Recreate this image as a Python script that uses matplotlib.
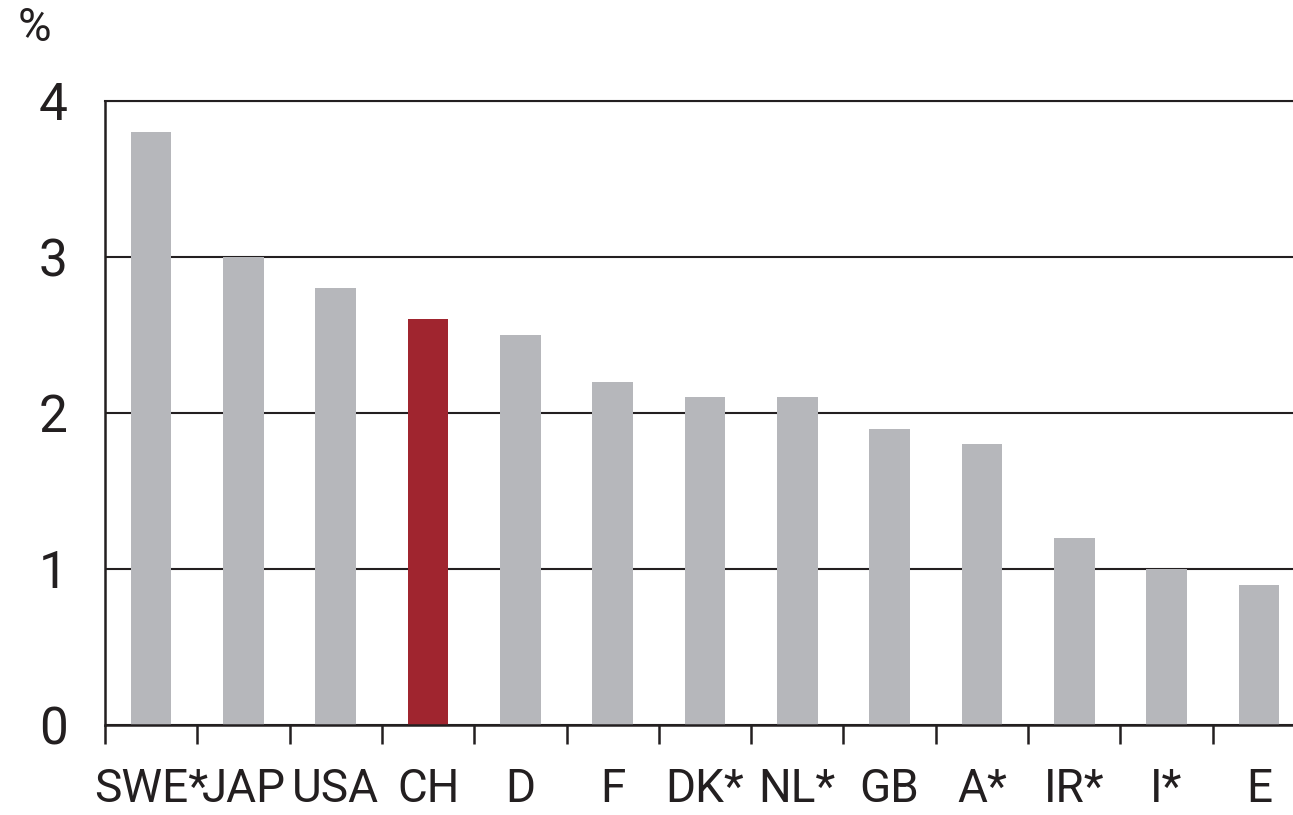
import matplotlib.pyplot as plt
import numpy as np

# Daten
countries = ['SWE*', 'JAP', 'USA', 'CH', 'D', 'F', 'DK*', 'NL*', 'GB', 'A*', 'IR*', 'I*', 'E']
values = [3.8, 3.0, 2.8, 2.6, 2.5, 2.2, 2.1, 2.1, 1.9, 1.8, 1.2, 1.0, 0.9]
highlight = 'CH'

grey = '#b6b7bb'
red = '#a0252f'
dark = '#231f20'

plt.rcParams['font.family'] = ['Roboto', 'DejaVu Sans']

fig = plt.figure(figsize=(12.93, 8.15), dpi=100)
ax = fig.add_axes([105 / 1293, 90 / 815, 1200 / 1293, 624 / 815])

x = np.arange(len(countries))
colors = [red if c == highlight else grey for c in countries]
ax.bar(x, values, width=0.44, color=colors, zorder=2)

ax.set_xlim(-0.5, len(countries) - 0.5)
ax.set_ylim(0, 4)

# Gitterlinien
ax.set_yticks([0, 1, 2, 3, 4])
ax.yaxis.grid(True, color=dark, linewidth=1.5)
ax.set_axisbelow(True)
ax.tick_params(axis='y', length=0, pad=27, labelsize=37, colors=dark)

# x-Achse: Beschriftung in der Mitte, Striche zwischen den Kategorien
ax.set_xticks(x)
ax.set_xticklabels(countries)
ax.set_xticks(np.arange(-0.5, len(countries)), minor=True)
ax.tick_params(axis='x', which='major', length=0, pad=30, labelsize=33, colors=dark)
ax.tick_params(axis='x', which='minor', length=14, width=1.8, color=dark, direction='out')

ax.spines['right'].set_visible(False)
for side in ['top', 'left', 'bottom']:
    ax.spines[side].set_color(dark)
ax.spines['top'].set_linewidth(1.5)
ax.spines['left'].set_linewidth(1.8)
ax.spines['bottom'].set_linewidth(1.8)

fig.text(18 / 1293, 1 - 6 / 815, '%', fontsize=33, va='top', ha='left', color=dark)

plt.savefig('out.png', dpi=100)
